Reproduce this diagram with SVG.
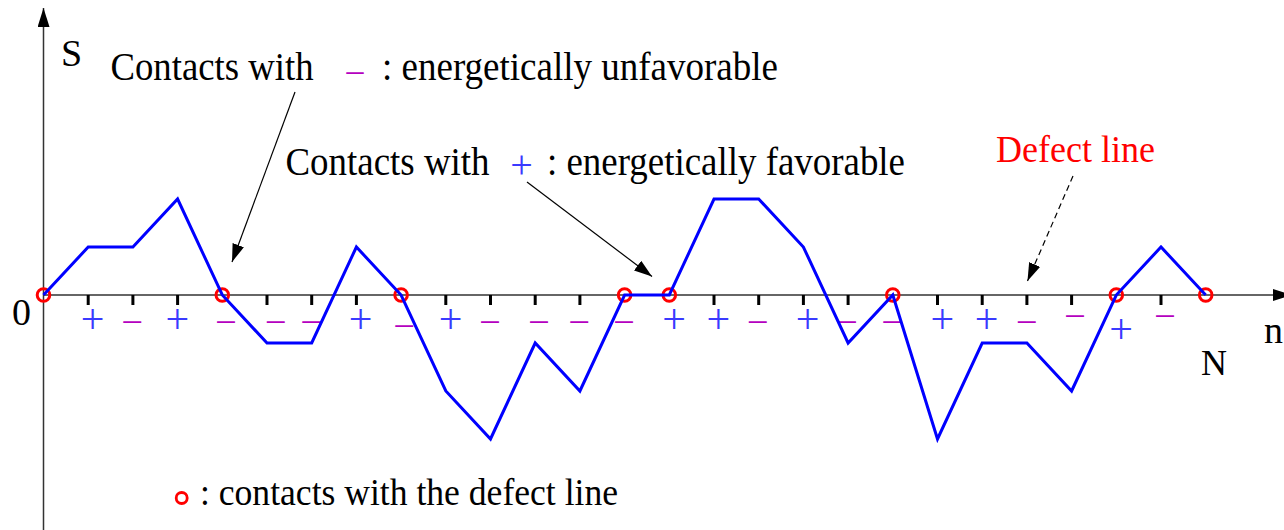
<svg xmlns="http://www.w3.org/2000/svg" width="1284" height="530" viewBox="0 0 1284 530">
<style>
.t{font-family:"Liberation Serif","Times New Roman",serif;fill:#000}
.p{font-family:"Liberation Serif","Times New Roman",serif;fill:#3a3aff;font-size:42px;text-anchor:middle}
.m{font-family:"Liberation Serif","Times New Roman",serif;fill:#b400c0;font-size:35px;text-anchor:middle}
.ax{stroke:#333;stroke-width:1.5;fill:none}
.tk{stroke:#000;stroke-width:3}
.dc{fill:none;stroke:#ff0000;stroke-width:3}
.ar{stroke:#000;stroke-width:1.2;fill:none}
</style>
<defs>
<marker id="ah" markerUnits="userSpaceOnUse" viewBox="0 0 18 12" markerWidth="18" markerHeight="12" refX="18" refY="6" orient="auto">
<path d="M0,0 L18,6 L0,12 z" fill="#000"/>
</marker>
<marker id="axh" markerUnits="userSpaceOnUse" viewBox="0 0 19 12" markerWidth="19" markerHeight="12" refX="19" refY="6" orient="auto">
<path d="M0,0 L19,6 L0,12 z" fill="#000"/>
</marker>
</defs>
<rect width="1284" height="530" fill="#fff"/>
<g id="axes">
<line class="ax" x1="43.5" y1="530" x2="43.5" y2="8" marker-end="url(#axh)"/>
<line class="ax" x1="43.5" y1="295" x2="1292" y2="295" marker-end="url(#axh)"/>
<g id="ticks">
<line class="tk" x1="88.2" y1="295" x2="88.2" y2="305"/>
<line class="tk" x1="132.9" y1="295" x2="132.9" y2="305"/>
<line class="tk" x1="177.6" y1="295" x2="177.6" y2="305"/>
<line class="tk" x1="267" y1="295" x2="267" y2="305"/>
<line class="tk" x1="311.7" y1="295" x2="311.7" y2="305"/>
<line class="tk" x1="356.4" y1="295" x2="356.4" y2="305"/>
<line class="tk" x1="445.8" y1="295" x2="445.8" y2="305"/>
<line class="tk" x1="490.5" y1="295" x2="490.5" y2="305"/>
<line class="tk" x1="535.2" y1="295" x2="535.2" y2="305"/>
<line class="tk" x1="579.9" y1="295" x2="579.9" y2="305"/>
<line class="tk" x1="714" y1="295" x2="714" y2="305"/>
<line class="tk" x1="758.7" y1="295" x2="758.7" y2="305"/>
<line class="tk" x1="803.4" y1="295" x2="803.4" y2="305"/>
<line class="tk" x1="848.1" y1="295" x2="848.1" y2="305"/>
<line class="tk" x1="937.5" y1="295" x2="937.5" y2="305"/>
<line class="tk" x1="982.2" y1="295" x2="982.2" y2="305"/>
<line class="tk" x1="1026.9" y1="295" x2="1026.9" y2="305"/>
<line class="tk" x1="1071.6" y1="295" x2="1071.6" y2="305"/>
<line class="tk" x1="1161" y1="295" x2="1161" y2="305"/>
</g>
<text class="t" x="61" y="66" font-size="38">S</text>
<text class="t" x="12" y="325" font-size="38">0</text>
<text class="t" x="1264" y="343" font-size="38">n</text>
<text class="t" x="1201" y="375" font-size="36">N</text>
</g>
<g id="signs">
<text class="p" x="92.7" y="333">+</text>
<text class="m" x="132.3" y="331">–</text>
<text class="p" x="177.3" y="333">+</text>
<text class="m" x="226" y="331">–</text>
<text class="m" x="275.7" y="331">–</text>
<text class="m" x="311.3" y="331">–</text>
<text class="p" x="360.7" y="333">+</text>
<text class="m" x="404.3" y="335">–</text>
<text class="p" x="450.7" y="333">+</text>
<text class="m" x="490" y="331">–</text>
<text class="m" x="539" y="331">–</text>
<text class="m" x="579.3" y="331">–</text>
<text class="m" x="624" y="331">–</text>
<text class="p" x="674" y="333">+</text>
<text class="p" x="718.3" y="333">+</text>
<text class="m" x="757.7" y="331">–</text>
<text class="p" x="807.7" y="333">+</text>
<text class="m" x="847" y="331">–</text>
<text class="m" x="892.3" y="331">–</text>
<text class="p" x="942.3" y="333">+</text>
<text class="p" x="986.7" y="333">+</text>
<text class="m" x="1026.7" y="331">–</text>
<text class="m" x="1075" y="325.3">–</text>
<text class="p" x="1121" y="342.7">+</text>
<text class="m" x="1165" y="325.3">–</text>
</g>
<g id="defect-contacts">
<circle class="dc" cx="43.5" cy="295" r="6.3"/>
<circle class="dc" cx="222.3" cy="295" r="6.3"/>
<circle class="dc" cx="401.1" cy="295" r="6.3"/>
<circle class="dc" cx="624.6" cy="295" r="6.3"/>
<circle class="dc" cx="669.3" cy="295" r="6.3"/>
<circle class="dc" cx="892.8" cy="295" r="6.3"/>
<circle class="dc" cx="1116.3" cy="295" r="6.3"/>
<circle class="dc" cx="1205.7" cy="295" r="6.3"/>
</g>
<g id="walk">
<polyline fill="none" stroke="#0000ff" stroke-width="3" stroke-linejoin="miter" points="43.5,295 88.2,247 132.9,247 177.6,199 222.3,295 267,343 311.7,343 356.4,247 401.1,295 445.8,391 490.5,439 535.2,343 579.9,391 624.6,295 669.3,295 714,199 758.7,199 803.4,247 848.1,343 892.8,295 937.5,439 982.2,343 1026.9,343 1071.6,391 1116.3,295 1161,247 1205.7,295"/>
</g>
<g id="label-unfavorable">
<text class="t" x="110.5" y="80" font-size="39" textLength="203" lengthAdjust="spacingAndGlyphs">Contacts with</text>
<text x="355" y="81" font-size="34" fill="#b400c0" text-anchor="middle" font-family="Liberation Serif, Times New Roman, serif">–</text>
<text class="t" x="382" y="80" font-size="39" textLength="396" lengthAdjust="spacingAndGlyphs">: energetically unfavorable</text>
</g>
<g id="label-favorable">
<text class="t" x="285.5" y="175" font-size="39" textLength="204" lengthAdjust="spacingAndGlyphs">Contacts with</text>
<text x="521.5" y="178" font-size="40" fill="#3a3aff" text-anchor="middle" font-family="Liberation Serif, Times New Roman, serif">+</text>
<text class="t" x="547" y="175" font-size="39" textLength="358" lengthAdjust="spacingAndGlyphs">: energetically favorable</text>
</g>
<g id="label-defect">
<text x="996" y="162" font-size="37" fill="#ff0000" font-family="Liberation Serif, Times New Roman, serif" textLength="159" lengthAdjust="spacingAndGlyphs">Defect line</text>
</g>
<g id="legend">
<circle cx="181.7" cy="498" r="5.5" fill="none" stroke="#ff0000" stroke-width="2.8"/>
<text class="t" x="200" y="505" font-size="37" textLength="418" lengthAdjust="spacingAndGlyphs">: contacts with the defect line</text>
</g>
<g id="connectors">
<line class="ar" x1="295" y1="92" x2="232" y2="262" marker-end="url(#ah)"/>
<line class="ar" x1="527" y1="182" x2="652" y2="276.5" marker-end="url(#ah)"/>
<line class="ar" x1="1073" y1="176" x2="1027.5" y2="281" stroke-dasharray="6,4" marker-end="url(#ah)"/>
</g>
</svg>
